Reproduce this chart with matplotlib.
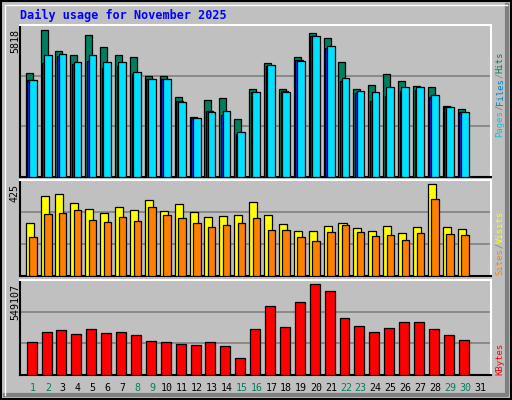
import matplotlib.pyplot as plt
from matplotlib.patches import Rectangle

days = list(range(1, 32))
weekend = [1, 2, 8, 9, 15, 16, 22, 23, 29, 30]

# values per day (November 2025, day 31 empty)
hits = [4120, 5818, 4989, 4831, 5621, 5147, 4831, 4752, 4002, 4002,
        3172, 2383, 3054, 3133, 2304, 3488, 4515, 3488, 4752, 5700,
        5502, 4554, 3488, 3646, 4081, 3804, 3607, 3567, 2817, 2698]
files = [3844, 4515, 4791, 4475, 4594, 4317, 4396, 4081, 3883, 3883,
         3014, 2343, 2619, 2461, 1711, 3370, 4396, 3409, 4633, 5581,
         5107, 3804, 3330, 3014, 3212, 3409, 3449, 3172, 2777, 2580]
pages = [3844, 4831, 4870, 4554, 4831, 4554, 4554, 4160, 3883, 3883,
         2975, 2343, 2580, 2619, 1790, 3370, 4436, 3370, 4594, 5581,
         5186, 3923, 3409, 3370, 3567, 3567, 3567, 3251, 2777, 2580]
visits = [245, 370, 379, 337, 310, 291, 319, 305, 351, 300,
          333, 296, 273, 277, 282, 342, 282, 240, 208, 208,
          231, 245, 222, 208, 231, 199, 226, 425, 226, 217]
sites = [180, 286, 291, 305, 259, 249, 273, 254, 319, 282,
         268, 245, 226, 236, 245, 268, 213, 213, 180, 162,
         203, 236, 203, 185, 189, 166, 199, 356, 194, 189]
kbytes = [199000, 259000, 272000, 247000, 278000, 253000, 259000, 241000, 205000, 199000,
          187000, 181000, 199000, 175000, 103000, 278000, 416000, 290000, 440000, 549107,
          507000, 344000, 296000, 259000, 284000, 320000, 320000, 278000, 241000, 211000]

W, H = 512, 400
BG = "#C0C0C0"
MONO = "DejaVu Sans Mono"

fig = plt.figure(figsize=(W / 100, H / 100), dpi=100)
fig.patch.set_facecolor(BG)

# 3D-ish frame
ov = fig.add_axes([0, 0, 1, 1])
ov.set_xlim(0, W)
ov.set_ylim(H, 0)
ov.axis("off")
ov.add_patch(Rectangle((1, 1), W - 2, H - 2, fill=False, ec="black", lw=1.5))
ov.plot([W - 5, W - 5, 5], [5, H - 5, H - 5], color="#808080", lw=3)
ov.plot([5, 5, W - 5], [H - 5, 5, 5], color="white", lw=1)
ov.text(20, 15, "Daily usage for November 2025", color="#0000FF", family=MONO,
        fontweight="bold", fontsize=8.5, va="center")


def panel(top, bottom):
    ax = fig.add_axes([20 / W, 1 - bottom / H, 471 / W, (bottom - top) / H])
    ax.set_facecolor(BG)
    ax.set_xlim(0.13, 31.75)
    ax.set_xticks([])
    ax.set_yticks([])
    for s in ax.spines.values():
        s.set_color("white")
        s.set_linewidth(1.5)
    ax.spines["left"].set_color("black")
    ax.spines["bottom"].set_color("black")
    return ax


def bars(ax, vals, x0, x1, color):
    xs = [d + x0 for d in days[:len(vals)]]
    ax.bar(xs, vals, width=x1 - x0, align="edge", color=color,
           edgecolor="black", linewidth=0.9, zorder=3)


def grid(ax, top):
    for f in (1 / 3, 2 / 3):
        ax.axhline(top * f, color="#808080", lw=1.2, zorder=1)


# top panel
ax1 = panel(25, 177)
top1 = max(hits) / 0.97
ax1.set_ylim(0, top1)
grid(ax1, top1)
bars(ax1, hits, -0.49, -0.02, "#007F5F")
bars(ax1, files, -0.38, 0.1, "#0033FF")
bars(ax1, pages, -0.27, 0.25, "#00E0FF")

# middle panel
ax2 = panel(180, 276)
top2 = max(visits) / 0.955
ax2.set_ylim(0, top2)
grid(ax2, top2)
bars(ax2, visits, -0.49, 0.05, "#FFFF00")
bars(ax2, sites, -0.25, 0.25, "#FF8000")

# bottom panel
ax3 = panel(280, 375)
top3 = max(kbytes) / 0.96
ax3.set_ylim(0, top3)
grid(ax3, top3)
bars(ax3, kbytes, -0.42, 0.25, "#FF0000")

for d in days:
    ax3.text(d, -0.14, str(d), transform=ax3.get_xaxis_transform(), ha="center",
             va="center", family=MONO, fontsize=7.2,
             color="#007F5F" if d in weekend else "black")

# left max labels
for y, lab in [(29, str(max(hits))), (184, str(max(visits))), (284, str(max(kbytes)))]:
    ov.text(15, y, lab, rotation=90, ha="center", va="top", family=MONO, fontsize=7.2)


# right labels (rotated, read bottom to top)
def right_label(parts, y_bottom):
    y = y_bottom
    for txt, col in parts:
        ov.text(500, y, txt, rotation=90, ha="center", va="bottom",
                family=MONO, fontsize=6.4, color=col)
        y -= len(txt) * 5.35


right_label([("Pages", "#00C8E8"), ("/", "#808080"), ("Files", "#0080C0"),
             ("/", "#808080"), ("Hits", "#007F5F")], 137)
right_label([("Sites", "#FF8000"), ("/", "#808080"), ("Visits", "#FFFF00")], 275)
right_label([("KBytes", "#FF0000")], 375)

fig.savefig("out.png", dpi=100, facecolor=BG)
